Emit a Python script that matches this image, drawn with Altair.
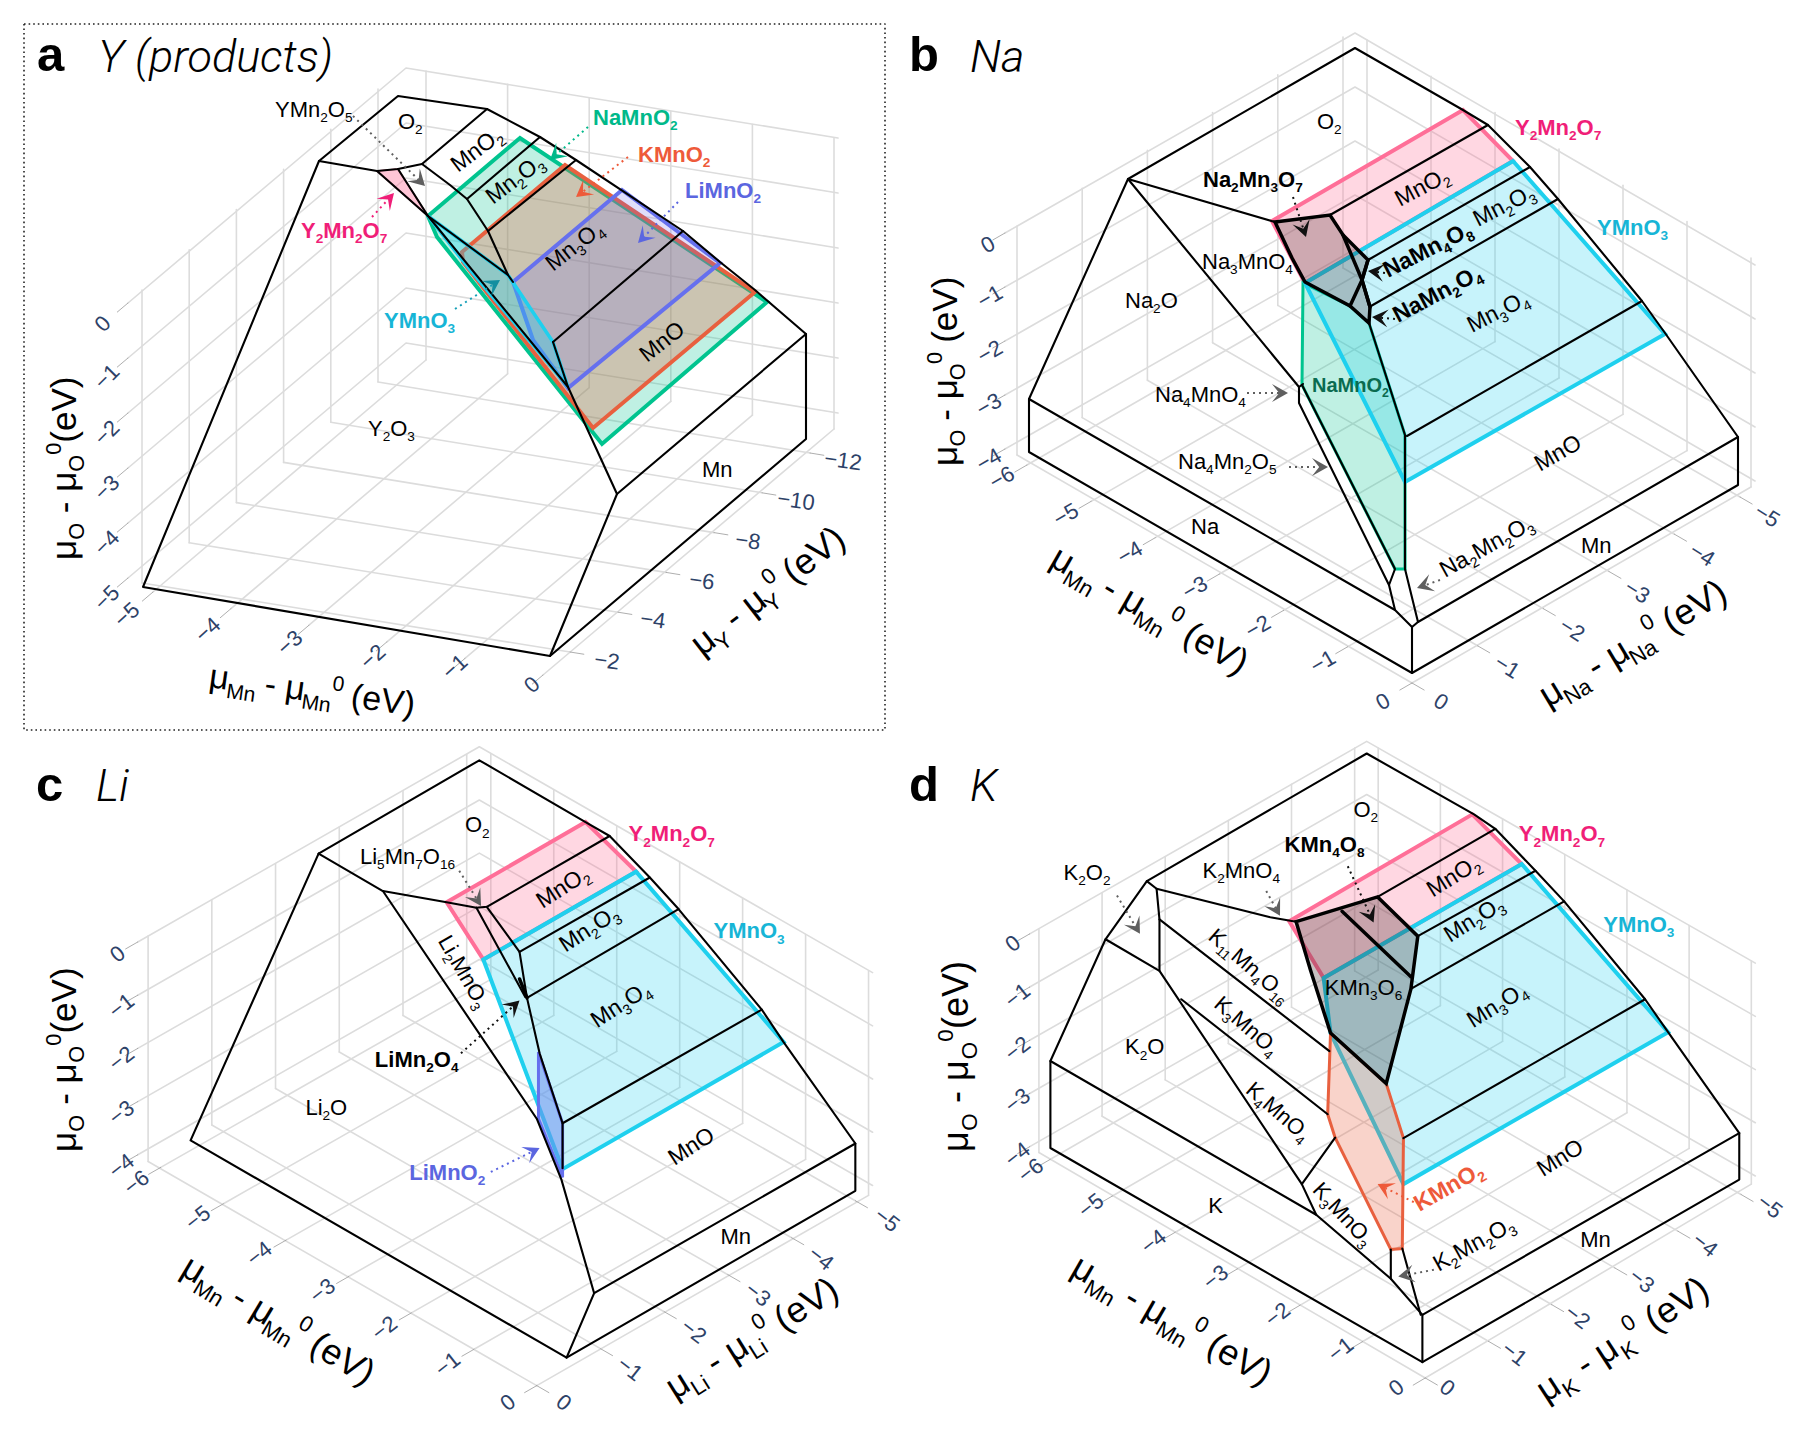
import re, math
import altair as alt
import pandas as pd

# ---------- colours ----------
PINK, CYAN, GREEN, RED, BLUE = "#ff6f98", "#1fd0ee", "#00c48f", "#e8603f", "#6670ee"
T_PINK, T_CYAN, T_GREEN, T_RED, T_BLUE = "#f01e78", "#17b5d6", "#00b98a", "#ee5a3a", "#5b66e0"
GRID, TICK, NAVY, GRAY = "#dcdcdc", "#999999", "#2e4268", "#5f5f5f"

# zoom-read coordinates of panels c and d
def zc(pts): return [(x / 1.742, 740 + y / 2.218) for x, y in pts]
def zd(pts): return [(900 + x / 1.742, 740 + y / 2.218) for x, y in pts]

# ---------- grids: [x0,top0,bot0,x1,top1,bot1,n] for walls ----------
GRIDS = [
    dict(L=(142, 290, 583, 378, 89, 382, 6), R=(426, 71, 360, 834, 138, 429, 6), corner=(406, 68), dy=55, lev=6,
         le=(128, 303), re=(838, 138), fl=((153, 592), (543, 675)), fr=((570, 652), (810, 453))),
    dict(L=(1017, 226, 455, 1343, 37, 268, 6), R=(1367, 40, 269, 1751, 258, 487, 7), corner=(1355, 33), dy=54, lev=5,
         le=(1005, 233), re=(1755, 265), fl=((1027, 465), (1412, 683)), fr=((1412, 683), (1740, 497))),
]
for f, L, R, c, le, re_, fl, fr in [
    (zc, (258, 435, 935, 813, 32, 530), (855, 30, 531, 1513, 512, 1010), (835, 15), (240, 448), (1520, 516),
     ((280, 948), (935, 1432)), ((935, 1432), (1490, 1022))),
    (zd, (242, 419, 915, 792, 18, 512), (833, 18, 510, 1483, 490, 985), (813, 3), (226, 430), (1490, 495),
     ((262, 930), (915, 1415)), ((915, 1415), (1465, 1008))),
]:
    (a, b), (e, g) = f([(L[0], L[1]), (L[3], L[4])])
    (_, h), (_, i) = f([(L[0], L[2]), (L[3], L[5])])
    (j, k), (m, n) = f([(R[0], R[1]), (R[3], R[4])])
    (_, o), (_, p) = f([(R[0], R[2]), (R[3], R[5])])
    GRIDS.append(dict(L=(a, b, h, e, g, i, 6), R=(j, k, o, m, n, p, 7), corner=f([c])[0], dy=118 / 2.218, lev=5,
                      le=f([le])[0], re=f([re_])[0], fl=tuple(f(list(fl))), fr=tuple(f(list(fr)))))

# ---------- regions: (points, fill, fill opacity, stroke, width) ----------
POLYS_A = [
    ([(428, 216), (520, 138), (767, 302), (602, 444), (567, 400), (437, 237)], GREEN, .25, GREEN, 4),
    ([(462, 252), (565, 165), (755, 292), (593, 428), (463, 262)], RED, .3, RED, 4),
    ([(513, 282), (622, 190), (720, 263), (568, 388), (533, 340)], "#7168e6", .22, BLUE, 4),
    ([(428, 216), (508, 275), (553, 342), (568, 387), (470, 270)], CYAN, .35, CYAN, 3.5),
    ([(377, 171), (398, 169), (428, 216)], PINK, .4, PINK, 1.5),
]
POLYS_B = [
    ([(1272, 221), (1463, 110), (1513, 161), (1305, 283)], PINK, .28, PINK, 4),
    ([(1303, 283), (1302, 385), (1395, 569), (1405, 569), (1405, 435), (1369, 323), (1350, 306)], GREEN, .25, GREEN, 3),
    ([(1305, 283), (1513, 161), (1665, 334), (1405, 482)], CYAN, .25, CYAN, 4),
    ([(1275, 222), (1330, 215), (1343, 235), (1368, 260), (1362, 280), (1370, 307), (1369, 323), (1350, 306),
      (1305, 282), (1292, 258)], "#3a2020", .25, "#000000", 3.5),
]
POLYS_C = [
    (zc([(778, 360), (1020, 182), (1108, 292), (842, 487)]), PINK, .28, PINK, 4),
    (zc([(842, 487), (1108, 292), (1365, 670), (980, 952)]), CYAN, .25, CYAN, 4),
    (zc([(938, 692), (980, 850), (980, 970), (938, 840)]), "#6f90ee", .55, BLUE, 3),
]
POLYS_D = [
    (zd([(678, 402), (997, 165), (1083, 275), (738, 528)]), PINK, .28, PINK, 4),
    (zd([(738, 528), (1083, 275), (1338, 648), (877, 985), (750, 650)]), CYAN, .25, CYAN, 4),
    (zd([(750, 650), (847, 762), (877, 883), (875, 1128), (855, 1130), (758, 882), (745, 830)]), RED, .28, RED, 3),
    (zd([(690, 403), (832, 348), (902, 435), (890, 552), (847, 762), (750, 650), (715, 510)]), "#3a2020", .28,
     "#000000", 3.5),
]
POLYS = POLYS_A + POLYS_B + POLYS_C + POLYS_D

# ---------- black phase boundaries ----------
EDGES = [
    # panel a
    [(319, 161), (398, 96), (487, 109), (540, 137), (576, 160), (683, 231), (720, 262), (755, 290), (806, 334), (806, 439), (550, 656), (143, 587), (319, 161)],
    [(550, 656), (617, 494), (806, 334)],
    [(319, 161), (377, 171), (398, 169), (422, 164), (487, 109)],
    [(422, 164), (450, 185), (467, 199), (488, 231), (508, 275), (513, 282)],
    [(467, 199), (540, 137)], [(488, 231), (576, 160)], [(553, 342), (683, 231)],
    [(553, 342), (568, 387), (617, 494)], [(377, 171), (428, 216)], [(398, 169), (428, 216)],
    [(428, 216), (568, 387)], [(428, 216), (508, 275)],
    # panel b
    [(1128, 179), (1355, 48), (1463, 110), (1488, 125), (1530, 167), (1558, 199), (1642, 301), (1665, 333), (1738, 437), (1738, 485), (1412, 673), (1029, 452), (1029, 399), (1128, 179)],
    [(1029, 399), (1395, 610), (1412, 627), (1412, 673)], [(1412, 627), (1418, 622), (1738, 437)],
    [(1128, 179), (1275, 222)], [(1128, 179), (1299, 387), (1299, 403), (1389, 585), (1395, 610)],
    [(1299, 387), (1303, 384)], [(1302, 385), (1395, 569), (1389, 585)], [(1405, 569), (1418, 622)],
    [(1405, 569), (1405, 435), (1369, 323)], [(1330, 215), (1488, 125)], [(1368, 260), (1530, 167)],
    [(1371, 306), (1558, 199)], [(1407, 436), (1642, 301)],
]
EDGES += [zc(s) for s in [
    [(555, 252), (835, 45), (1020, 182), (1062, 213), (1132, 305), (1182, 375), (1327, 598), (1365, 670), (1490, 895), (1490, 1000), (987, 1370), (332, 888), (555, 252)],
    [(987, 1370), (1035, 1227), (1490, 895)],
    [(555, 252), (667, 335), (778, 360), (830, 372), (848, 370), (1062, 213)],
    [(667, 335), (935, 840), (978, 975), (1035, 1227)],
    [(830, 372), (915, 570)], [(848, 370), (905, 470), (918, 572), (940, 695), (980, 850), (980, 950)],
    [(905, 470), (1132, 305)], [(918, 572), (1182, 375)], [(980, 850), (1327, 598)],
]]
EDGES += [zd(s) for s in [
    [(430, 313), (813, 30), (1000, 165), (1037, 197), (1107, 290), (1157, 358), (1298, 575), (1338, 648), (1462, 872), (1462, 975), (910, 1380), (262, 905), (262, 712), (358, 442), (430, 313)],
    [(262, 712), (725, 1053), (855, 1195), (910, 1275), (1462, 872)], [(910, 1275), (910, 1380)],
    [(358, 442), (452, 512), (700, 985), (725, 1053)],
    [(430, 313), (447, 330), (452, 398), (452, 512)], [(447, 330), (645, 393), (690, 403)],
    [(452, 398), (748, 690)], [(490, 575), (745, 830)], [(700, 985), (758, 882)],
    [(855, 1130), (855, 1195)], [(875, 1128), (907, 1275)],
    [(902, 435), (1107, 290)], [(890, 552), (1157, 358)], [(877, 883), (1298, 575)], [(832, 348), (1037, 197)],
]]
HEAVY = [
    [(1343, 235), (1362, 280), (1370, 307)], [(1368, 260), (1362, 280), (1350, 306)],
] + [zd([(770, 380), (890, 525)]), zc([(905, 530), (918, 572)])]

# ---------- arrows: start, tip, dotted colour, head colour ----------
ARROWS = [
    ((353, 116), (425, 186), GRAY, GRAY), ((372, 217), (394, 193), T_PINK, T_PINK),
    ((588, 127), (550, 160), T_GREEN, T_GREEN), ((628, 157), (576, 197), T_RED, T_RED),
    ((678, 202), (638, 243), T_BLUE, T_BLUE), ((455, 309), (500, 280), "#17a0b8", "#138ea0"),
    ((1293, 197), (1306, 237), "#111111", "#111111"), ((1385, 273), (1368, 271), "#111111", "#111111"),
    ((1395, 319), (1372, 317), "#111111", "#111111"), ((1247, 393), (1288, 393), GRAY, GRAY),
    ((1289, 467), (1328, 467), GRAY, GRAY), ((1440, 580), (1417, 588), GRAY, GRAY),
]
for f, arr in [
    (zc, [((800, 290), (838, 368), GRAY, GRAY), ((803, 695), (905, 578), "#111111", "#111111"),
          ((855, 958), (940, 905), T_BLUE, T_BLUE)]),
    (zd, [((378, 345), (418, 430), GRAY, GRAY), ((638, 335), (662, 390), GRAY, GRAY),
          ((780, 280), (825, 405), "#111111", "#111111"), ((895, 1025), (832, 985), T_RED, T_RED),
          ((930, 1175), (868, 1190), GRAY, GRAY)]),
]:
    for s, t, c1, c2 in arr:
        p = f([s, t])
        ARROWS.append((p[0], p[1], c1, c2))

# ---------- labels: text, x, y (baseline start), size, weight, colour, angle ----------
LABELS = [
    ("YMn_{2}O_{5}", 275, 117, 22, "normal", "#000", 0), ("O_{2}", 398, 129, 22, "normal", "#000", 0),
    ("MnO_{2}", 458, 173, 23, "normal", "#000", -37), ("Mn_{2}O_{3}", 493, 205, 23, "normal", "#000", -37),
    ("Mn_{3}O_{4}", 553, 272, 23, "normal", "#000", -38), ("MnO", 647, 363, 23, "normal", "#000", -38),
    ("Y_{2}O_{3}", 368, 436, 22, "normal", "#000", 0), ("Mn", 702, 477, 22, "normal", "#000", 0),
    ("Y_{2}Mn_{2}O_{7}", 301, 238, 22, "bold", T_PINK, 0), ("YMnO_{3}", 384, 328, 22, "bold", T_CYAN, 0),
    ("NaMnO_{2}", 593, 125, 22, "bold", T_GREEN, 0), ("KMnO_{2}", 638, 162, 22, "bold", T_RED, 0),
    ("LiMnO_{2}", 685, 198, 22, "bold", T_BLUE, 0),
    ("O_{2}", 1317, 129, 22, "normal", "#000", 0), ("Na_{2}Mn_{3}O_{7}", 1203, 187, 22, "bold", "#000", 0),
    ("Na_{3}MnO_{4}", 1202, 269, 22, "normal", "#000", 0), ("Na_{2}O", 1125, 308, 22, "normal", "#000", 0),
    ("Na_{4}MnO_{4}", 1155, 402, 22, "normal", "#000", 0), ("Na_{4}Mn_{2}O_{5}", 1178, 469, 22, "normal", "#000", 0),
    ("Na", 1191, 534, 22, "normal", "#000", 0), ("MnO_{2}", 1400, 207, 23, "normal", "#000", -28),
    ("Mn_{2}O_{3}", 1478, 227, 23, "normal", "#000", -27), ("NaMn_{4}O_{8}", 1388, 278, 23, "bold", "#000", -27),
    ("NaMn_{2}O_{4}", 1398, 323, 23, "bold", "#000", -28), ("Mn_{3}O_{4}", 1472, 333, 23, "normal", "#000", -27),
    ("NaMnO_{2}", 1312, 392, 20, "bold", "#0a6b50", 0), ("MnO", 1540, 472, 23, "normal", "#000", -30),
    ("Mn", 1581, 553, 22, "normal", "#000", 0), ("Na_{2}Mn_{2}O_{3}", 1445, 578, 23, "normal", "#000", -29),
    ("Y_{2}Mn_{2}O_{7}", 1515, 135, 22, "bold", T_PINK, 0), ("YMnO_{3}", 1597, 235, 22, "bold", T_CYAN, 0),
]
for f, arr in [
    (zc, [("O_{2}", 810, 205, 22, "normal", "#000", 0), ("Li_{5}Mn_{7}O_{16}", 627, 275, 22, "normal", "#000", 0),
          ("Y_{2}Mn_{2}O_{7}", 1095, 225, 22, "bold", T_PINK, 0), ("MnO_{2}", 945, 375, 23, "normal", "#000", -33),
          ("Mn_{2}O_{3}", 985, 472, 23, "normal", "#000", -33), ("Mn_{3}O_{4}", 1040, 640, 23, "normal", "#000", -33),
          ("MnO", 1175, 945, 23, "normal", "#000", -33), ("Mn", 1255, 1118, 22, "normal", "#000", 0),
          ("Li_{2}O", 532, 832, 22, "normal", "#000", 0), ("LiMn_{2}O_{4}", 653, 725, 22, "bold", "#000", 0),
          ("LiMnO_{2}", 713, 975, 22, "bold", T_BLUE, 0), ("YMnO_{3}", 1243, 440, 22, "bold", T_CYAN, 0),
          ("Li_{2}MnO_{3}", 762, 445, 22, "normal", "#000", 60)]),
    (zd, [("O_{2}", 790, 170, 22, "normal", "#000", 0), ("KMn_{4}O_{8}", 670, 248, 22, "bold", "#000", 0),
          ("K_{2}MnO_{4}", 527, 305, 22, "normal", "#000", 0), ("K_{2}O_{2}", 285, 310, 22, "normal", "#000", 0),
          ("K_{11}Mn_{4}O_{16}", 535, 440, 22, "normal", "#000", 41), ("K_{3}MnO_{4}", 545, 590, 22, "normal", "#000", 41),
          ("K_{4}MnO_{4}", 600, 780, 22, "normal", "#000", 41), ("K_{3}MnO_{3}", 717, 1000, 22, "normal", "#000", 47),
          ("K_{2}O", 392, 697, 22, "normal", "#000", 0), ("K", 537, 1050, 22, "normal", "#000", 0),
          ("KMn_{3}O_{6}", 740, 565, 22, "normal", "#000", 0), ("MnO_{2}", 928, 350, 23, "normal", "#000", -32),
          ("Mn_{2}O_{3}", 958, 450, 23, "normal", "#000", -32), ("Mn_{3}O_{4}", 998, 640, 23, "normal", "#000", -32),
          ("MnO", 1120, 970, 23, "normal", "#000", -32), ("Mn", 1185, 1125, 22, "normal", "#000", 0),
          ("K_{2}Mn_{2}O_{3}", 938, 1180, 23, "normal", "#000", -29), ("KMnO_{2}", 905, 1047, 23, "bold", T_RED, -30),
          ("Y_{2}Mn_{2}O_{7}", 1078, 225, 22, "bold", T_PINK, 0), ("YMnO_{3}", 1225, 425, 22, "bold", T_CYAN, 0)]),
]:
    for t, x, y, s, w, c, a in arr:
        (px, py), = f([(x, y)])
        LABELS.append((t, px, py, s, w, c, a))

# text, x, y, angle, size, tracking
AXIS_TITLES = [
    ("μ_{O} - μ_{O}^{0}(eV)", 76, 560, -90, 35, 1.0), ("μ_{Mn} - μ_{Mn}^{0} (eV)", 208, 687, 8, 34, .96), ("μ_{Y} - μ_{Y}^{0} (eV)", 702, 657, -38, 36, .93),
    ("μ_{O} - μ_{O}^{0} (eV)", 957, 466, -90, 35, .97), ("μ_{Mn} - μ_{Mn}^{0} (eV)", 1048, 565, 30, 36, .97), ("μ_{Na} - μ_{Na}^{0} (eV)", 1548, 708, -31, 36, .94),
    ("μ_{O} - μ_{O}^{0}(eV)", 76, 1152, -90, 35, 1.01), ("μ_{Mn} - μ_{Mn}^{0} (eV)", 179, 1274, 31, 36, .95), ("μ_{Li} - μ_{Li}^{0} (eV)", 675, 1400, -32, 36, .98),
    ("μ_{O} - μ_{O}^{0}(eV)", 968, 1152, -90, 36, 1.02), ("μ_{Mn} - μ_{Mn}^{0} (eV)", 1069, 1274, 30, 36, .99), ("μ_{K} - μ_{K}^{0} (eV)", 1546, 1403, -33, 36, 1.03),
]
PANEL_TAGS = [("a", 37, 71), ("b", 909, 71), ("c", 36, 801), ("d", 909, 801)]
PANEL_NAMES = [("Y (products)", 98, 72), ("Na", 970, 72), ("Li", 96, 801), ("K", 970, 801)]

# ---------- tick labels: text, x, y, angle ----------
TICKS_LEFT = ["0", "−1", "−2", "−3", "−4", "−5"]
TICKS = [(t, x, y, -45) for t, (x, y) in zip(TICKS_LEFT, [(103, 324), (107, 377), (107, 433), (107, 488), (107, 543), (107, 598)])]
TICKS += [(t, x, y, -42) for t, (x, y) in zip(["−5", "−4", "−3", "−2", "−1", "0"], [(127, 615), (208, 630), (290, 643), (373, 657), (455, 667), (532, 685)])]
TICKS += [(t, x, y, 8) for t, (x, y) in zip(["−2", "−4", "−6", "−8", "−10", "−12"], [(607, 661), (653, 620), (702, 581), (748, 541), (796, 501), (843, 461)])]
TICKS += [(t, x, y, -30) for t, (x, y) in zip(TICKS_LEFT, [(988, 245), (990, 297), (990, 352), (989, 405), (989, 460)])]
TICKS += [(t, x, y, -30) for t, (x, y) in zip(["−6", "−5", "−4", "−3", "−2", "−1", "0"], [(1002, 478), (1066, 515), (1130, 553), (1195, 588), (1258, 627), (1323, 662), (1383, 702)])]
TICKS += [(t, x, y, 32) for t, (x, y) in zip(["0", "−1", "−2", "−3", "−4", "−5"], [(1441, 702), (1507, 667), (1572, 630), (1637, 592), (1702, 555), (1767, 516)])]
for f, o, m, r in [
    (zc, [(205, 475), (212, 590), (212, 707), (212, 827), (212, 945)],
     [(238, 982), (345, 1060), (452, 1140), (562, 1222), (670, 1305), (780, 1385), (885, 1470)],
     [(982, 1470), (1097, 1395), (1208, 1312), (1320, 1230), (1430, 1150), (1545, 1065)]),
    (zd, [(197, 452), (205, 567), (205, 685), (205, 800), (205, 920)],
     [(228, 955), (333, 1033), (442, 1113), (550, 1192), (658, 1275), (768, 1352), (865, 1437)],
     [(953, 1437), (1070, 1362), (1180, 1280), (1292, 1200), (1402, 1120), (1515, 1035)]),
]:
    TICKS += [(t, *p, -38) for t, p in zip(TICKS_LEFT, f(o))]
    TICKS += [(t, *p, -38) for t, p in zip(["−6", "−5", "−4", "−3", "−2", "−1", "0"], f(m))]
    TICKS += [(t, *p, 38) for t, p in zip(["0", "−1", "−2", "−3", "−4", "−5"], f(r))]

# ---------- helpers ----------
X = alt.X("x:Q", scale=alt.Scale(domain=[8, 1793], nice=False, zero=False), axis=None)
Y = alt.Y("y:Q", scale=alt.Scale(domain=[1439, 8], nice=False, zero=False), axis=None)

def lerp(p, q, t): return (p[0] + (q[0] - p[0]) * t, p[1] + (q[1] - p[1]) * t)
def steps(n): return [k / (n - 1) for k in range(n)]

def path_rows(segments):
    rows = []
    for sid, s in enumerate(segments):
        for i, (x, y) in enumerate(s):
            rows.append(dict(x=x, y=y, seg=sid, i=i))
    return pd.DataFrame(rows)

def lines(segments, color, width, dash=None):
    kw = dict(color=color, strokeWidth=width, strokeJoin="round", strokeCap="round", clip=False)
    if dash: kw["strokeDash"] = dash; kw["strokeCap"] = "butt"
    return alt.Chart(path_rows(segments)).mark_line(**kw).encode(x=X, y=Y, detail="seg:N", order="i:Q")

def poly(pts, fill, op, stroke=None, width=0):
    kw = dict(interpolate="linear-closed", fill=fill, fillOpacity=op, strokeJoin="miter")
    kw.update(dict(stroke=stroke, strokeWidth=width) if stroke else dict(strokeOpacity=0, strokeWidth=0))
    return alt.Chart(path_rows([pts])).mark_line(**kw).encode(x=X, y=Y, order="i:Q")

WN = dict(zip("0123456789", [.556] * 10))
WN.update({"M": .833, "n": .556, "O": .778, "Y": .667, "N": .722, "a": .556, "L": .556, "i": .222, "K": .667,
           "(": .333, ")": .333, "e": .556, "V": .667, "-": .333, " ": .278, "μ": .576})
WB = dict(WN); WB.update({"n": .611, "i": .278, "L": .611, "K": .722})

def runs(text):
    out = []
    for m in re.finditer(r"_\{(.*?)\}|\^\{(.*?)\}|[^_^]+", text):
        if m.group(1) is not None: out.append((m.group(1), "sub"))
        elif m.group(2) is not None: out.append((m.group(2), "sup"))
        else: out.append((m.group(0), "base"))
    return out

def rich(text, x, y, size, color, angle, weight="normal", track=1.0, ratio=.62):
    rows = []
    ca, sa = math.cos(math.radians(angle)), math.sin(math.radians(angle))
    table = WB if weight == "bold" else WN
    pen = 0.0
    for part, kind in runs(text):
        s = size if kind == "base" else size * ratio
        off = {"base": 0, "sub": .24 * size, "sup": -.42 * size}[kind]
        stripped = part.lstrip(" ")           # leading blanks collapse in SVG text
        pen += (len(part) - len(stripped)) * table[" "] * s * track
        rows.append(dict(x=x + pen * ca - off * sa, y=y + pen * sa + off * ca, text=stripped, size=s, c=color, a=angle % 360))
        pen += sum(table.get(ch, .556) for ch in stripped) * s * track
    return rows

def text_layer(rows, **kw):
    return alt.Chart(pd.DataFrame(rows)).mark_text(align="left", baseline="alphabetic", font="Liberation Sans", **kw).encode(
        x=X, y=Y, text="text:N", size=alt.Size("size:Q", scale=None), color=alt.Color("c:N", scale=None),
        angle=alt.Angle("a:Q", scale=None))

# ---------- build ----------
grid_seg, tick_seg = [], []
for g in GRIDS:
    lx0, lt0, lb0, lx1, lt1, lb1, nl = g["L"]
    rx0, rt0, rb0, rx1, rt1, rb1, nr = g["R"]
    lv, rv = [], []
    for t in steps(nl):
        x = lx0 + (lx1 - lx0) * t
        lv.append((x, lb0 + (lb1 - lb0) * t))
        grid_seg.append([(x, lt0 + (lt1 - lt0) * t), lv[-1]])
    for t in steps(nr):
        x = rx0 + (rx1 - rx0) * t
        rv.append((x, rb0 + (rb1 - rb0) * t))
        grid_seg.append([(x, rt0 + (rt1 - rt0) * t), rv[-1]])
    cx, cy = g["corner"]
    for k in range(g["lev"]):
        d = k * g["dy"]
        a_ = (g["le"][0], g["le"][1] + d)
        grid_seg.append([(g["re"][0], g["re"][1] + d), (cx, cy + d), a_])
        u = (a_[0] - cx, a_[1] - cy - d); n_ = math.hypot(*u)
        tick_seg.append([a_, (a_[0] + u[0] / n_ * 14, a_[1] + u[1] / n_ * 14)])
    for pts, ends in ((g["fl"], rv), (g["fr"], lv)):
        for t, e in zip(steps(len(ends)), ends):
            p = lerp(pts[0], pts[1], t)
            grid_seg.append([e, p])
            u = (p[0] - e[0], p[1] - e[1]); n_ = math.hypot(*u)
            tick_seg.append([p, (p[0] + u[0] / n_ * 14, p[1] + u[1] / n_ * 14)])

layers = [lines(grid_seg, GRID, 1.6), lines(tick_seg, TICK, .8)]
for pts, fill, op, stroke, w in POLYS:
    layers.append(poly(pts, fill, op, stroke, w))
layers.append(lines(EDGES, "#000000", 2.1))
layers.append(lines(HEAVY, "#000000", 3.5))
layers.append(lines([[(24, 24), (885, 24), (885, 730), (24, 730), (24, 24)]], "#222222", 1.6, dash=[1.6, 3]))

for s, t, c1, c2 in ARROWS:
    L, W = 16, 9
    d = math.hypot(t[0] - s[0], t[1] - s[1]); ux, uy = (t[0] - s[0]) / d, (t[1] - s[1]) / d
    layers.append(lines([[s, (t[0] - ux * L * .55, t[1] - uy * L * .55)]], c1, 2, dash=[2, 4]))
    head = [t, (t[0] - ux * L - uy * W, t[1] - uy * L + ux * W), (t[0] - ux * L * .55, t[1] - uy * L * .55),
            (t[0] - ux * L + uy * W, t[1] - uy * L - ux * W)]
    layers.append(poly(head, c2, 1))

normal, bold = [], []
for t, x, y, s, w, c, a in LABELS:
    (bold if w == "bold" else normal).extend(rich(t, x, y, s, c, a, weight=w))
for t, x, y, a, s, tr in AXIS_TITLES:
    normal.extend(rich(t, x, y, s, "#000000", a, track=tr))
layers.append(text_layer(normal))
layers.append(text_layer(bold, fontWeight="bold"))

tags = [dict(x=x, y=y, text=t, size=49, c="#000000", a=0) for t, x, y in PANEL_TAGS]
layers.append(text_layer(tags, fontWeight="bold"))
names = [dict(x=x, y=y, text=t, size=45, c="#000000") for t, x, y in PANEL_NAMES]
layers.append(alt.Chart(pd.DataFrame(names)).mark_text(align="left", baseline="alphabetic", font="Roboto", fontStyle="italic", fontWeight=300).encode(
    x=X, y=Y, text="text:N", size=alt.Size("size:Q", scale=None), color=alt.Color("c:N", scale=None)))

tick_df = pd.DataFrame([dict(x=x, y=y, text=t, a=a % 360) for t, x, y, a in TICKS])
layers.append(alt.Chart(tick_df).mark_text(align="center", baseline="middle", font="Liberation Sans", fontSize=22, color=NAVY).encode(
    x=X, y=Y, text="text:N", angle=alt.Angle("a:Q", scale=None)))

chart = alt.layer(*layers).properties(width=1785, height=1431, padding=0, autosize="none", background="white").configure_view(stroke=None)
chart.save("out.html", embed_options={"renderer": "svg", "actions": False})
